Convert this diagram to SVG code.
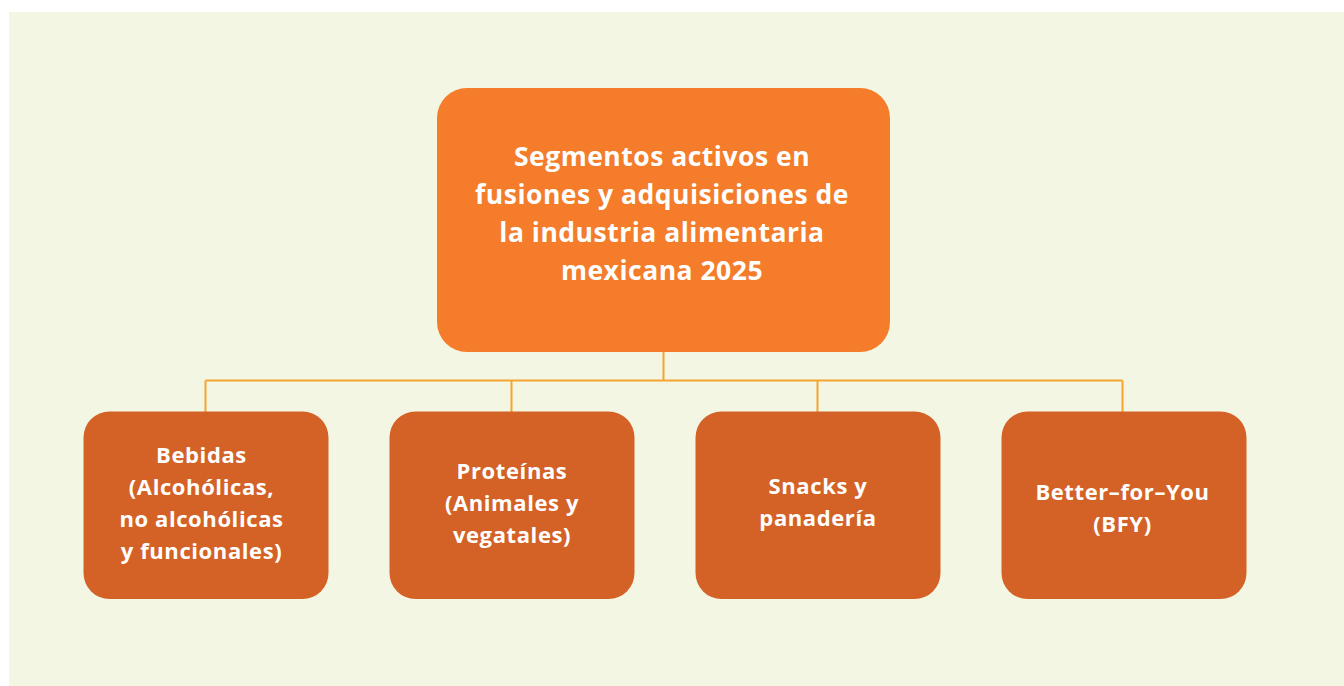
<svg xmlns="http://www.w3.org/2000/svg" width="1344" height="686" viewBox="0 0 1344 686">
<style>
.bg{fill:#F3F6E2}
.top{fill:#F47C2A}
.sub{fill:#D46226}
.ln{stroke:#F5A52F;stroke-width:2;fill:none}
text{font-family:"Open Sans","Liberation Sans",sans-serif;font-weight:700;fill:#FFFFFF;text-anchor:middle}
.t1{font-size:26.5px;letter-spacing:0.5px}
.t2{font-size:22px;letter-spacing:0.6px}
</style>
<rect x="0" y="0" width="1344" height="686" fill="#FFFFFF"/>
<rect class="bg" x="9" y="12" width="1335" height="674"/>
<g id="connectors">
<path class="ln" d="M663.5 352V380.5M205.5 380.5H1122.5M205.5 380.5V412M511.5 380.5V412M817.5 380.5V412M1122.5 380.5V412"/>
</g>
<g id="root">
<rect class="top" x="437" y="88" width="453" height="264" rx="30"/>
<text class="t1" x="662" y="166">Segmentos activos en</text>
<text class="t1" x="662" y="204">fusiones y adquisiciones de</text>
<text class="t1" x="662" y="242">la industria alimentaria</text>
<text class="t1" x="662" y="280">mexicana 2025</text>
</g>
<g id="bebidas">
<rect class="sub" x="83.5" y="411.5" width="245" height="187.5" rx="26"/>
<text class="t2" x="201.5" y="463">Bebidas</text>
<text class="t2" x="201.5" y="495">(Alcohólicas,</text>
<text class="t2" x="201.5" y="527">no alcohólicas</text>
<text class="t2" x="201.5" y="559">y funcionales)</text>
</g>
<g id="proteinas">
<rect class="sub" x="389.5" y="411.5" width="245" height="187.5" rx="26"/>
<text class="t2" x="512" y="479">Proteínas</text>
<text class="t2" x="512" y="511">(Animales y</text>
<text class="t2" x="512" y="543">vegatales)</text>
</g>
<g id="snacks">
<rect class="sub" x="695.5" y="411.5" width="245" height="187.5" rx="26"/>
<text class="t2" x="818" y="494">Snacks y</text>
<text class="t2" x="818" y="526">panadería</text>
</g>
<g id="bfy">
<rect class="sub" x="1001.5" y="411.5" width="245" height="187.5" rx="26"/>
<text class="t2" x="1122.5" y="500">Better–for–You</text>
<text class="t2" x="1122.5" y="532">(BFY)</text>
</g>
</svg>
